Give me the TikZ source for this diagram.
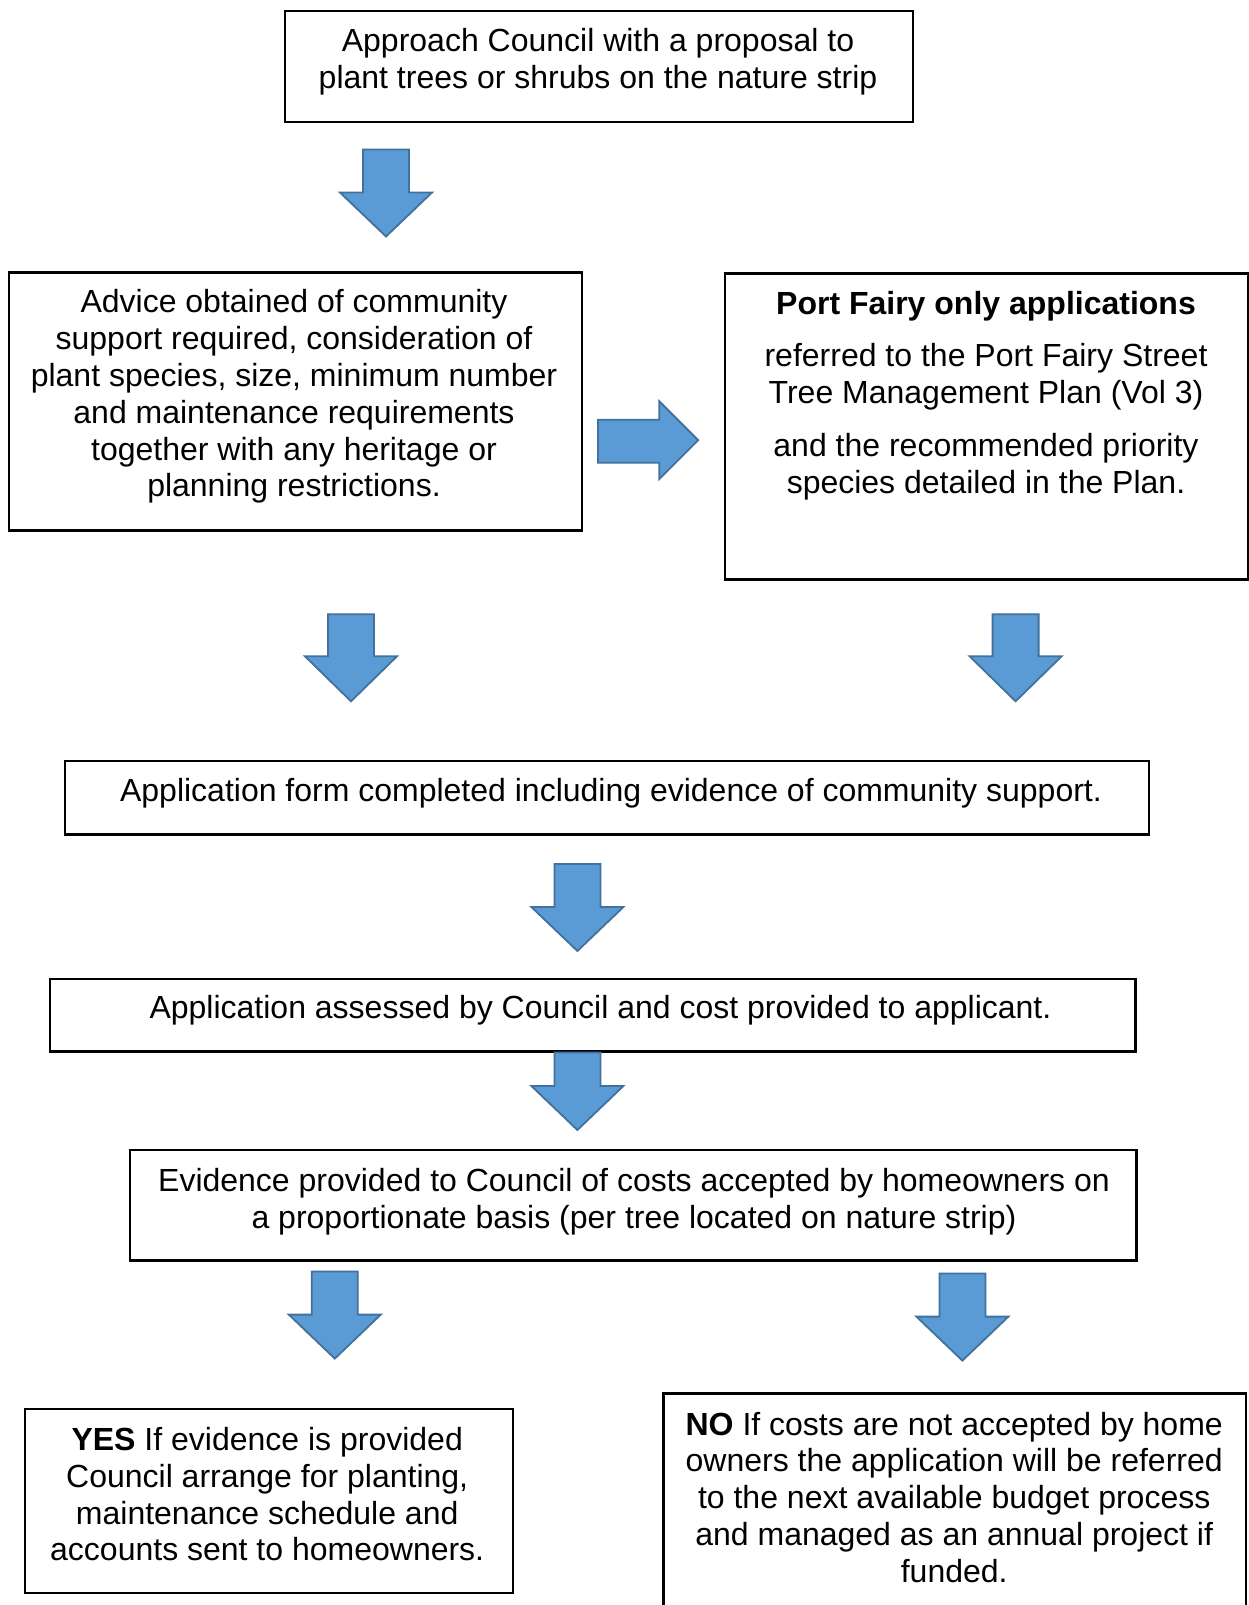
\documentclass[tikz,border=0pt]{standalone}
\usepackage{fontspec}
\setmainfont{Liberation Sans}
\definecolor{arrowfill}{HTML}{5B9BD5}
\definecolor{arrowline}{HTML}{41719C}
\tikzset{
  box/.style={draw=black, line width=1.1pt, inner sep=0pt, anchor=north west},
  txt/.style={align=center, font=\fontsize{16}{18.4}\selectfont, inner sep=0pt},
  blockarrow/.style={fill=arrowfill, draw=arrowline, line width=0.9pt, line join=miter},
}
% cx, top, headbase, tip
\newcommand{\blockdown}[4]{%
  \draw[blockarrow] (#1-23,#2) -- (#1+23,#2) -- (#1+23,#3) -- (#1+46,#3) -- (#1,#4)
    -- (#1-46,#3) -- (#1-23,#3) -- cycle;}
\begin{document}
\begin{tikzpicture}[x=0.5pt,y=-0.5pt]
\useasboundingbox (0,0) rectangle (1248,1605);
\fill[white] (0,0) rectangle (1248,1605);

% boxes
\node[box, minimum width=314.3pt, minimum height=55.3pt] (b1) at (283.6,10.2) {};
\node[box, minimum width=286.15pt, minimum height=129pt] (b2) at (8.2,271.3) {};
\node[box, minimum width=261.35pt, minimum height=153.05pt] (b3) at (723.8,272.3) {};
\node[box, minimum width=542.05pt, minimum height=36.9pt] (b4) at (63.5,759.6) {};
\node[box, minimum width=542.65pt, minimum height=36.35pt] (b5) at (49.1,977.7) {};
\node[box, minimum width=503.2pt, minimum height=55.3pt] (b6) at (129,1148.7) {};
\node[box, minimum width=244.25pt, minimum height=92.15pt] (b7) at (23.5,1407.7) {};
\node[box, minimum width=291.3pt, minimum height=113.8pt] (b8) at (662.4,1392.4) {};

% texts
\node[txt] (t1) at (598,61.4) {Approach Council with a proposal to\\plant trees or shrubs on the nature strip};
\node[txt] (t2) at (294,396.6) {Advice obtained of community\\support required, consideration of\\plant species, size, minimum number\\and maintenance requirements\\together with any heritage or\\planning restrictions.};
\node[txt, font=\fontsize{16}{18.4}\selectfont\bfseries] (t3a) at (986,306) {Port Fairy only applications};
\node[txt] (t3b) at (986,376.7) {referred to the Port Fairy Street\\Tree Management Plan (Vol 3)};
\node[txt] (t3c) at (986,466.7) {and the recommended priority\\species detailed in the Plan.};
\node[txt] (t4) at (611,793.4) {Application form completed including evidence of community support.};
\node[txt] (t5) at (600.5,1010.4) {Application assessed by Council and cost provided to applicant.};
\node[txt] (t6) at (634,1201.4) {Evidence provided to Council of costs accepted by homeowners on\\a proportionate basis (per tree located on nature strip)};
\node[txt] (t7) at (267.2,1494.2) {\textbf{YES} If evidence is provided\\Council arrange for planting,\\maintenance schedule and\\accounts sent to homeowners.};
\node[txt] (t8) at (954.2,1497.2) {\textbf{NO} If costs are not accepted by home\\owners the application will be referred\\to the next available budget process\\and managed as an annual project if\\funded.};

% block arrows
\blockdown{386}{149.5}{192.5}{236.5}
\draw[blockarrow] (598,419.8) -- (659.3,419.8) -- (659.3,401.3) -- (698.2,440.2)
  -- (659.3,479.1) -- (659.3,462.7) -- (598,462.7) -- cycle;
\blockdown{351}{614.3}{656.3}{701.3}
\blockdown{1015.6}{614.3}{656.3}{701.3}
\blockdown{577.4}{864}{907}{951}
\blockdown{577.4}{1052.5}{1086}{1130}
\blockdown{334.8}{1271.5}{1314.6}{1358.6}
\blockdown{962.4}{1273.5}{1316.6}{1360.6}
\end{tikzpicture}
\end{document}
